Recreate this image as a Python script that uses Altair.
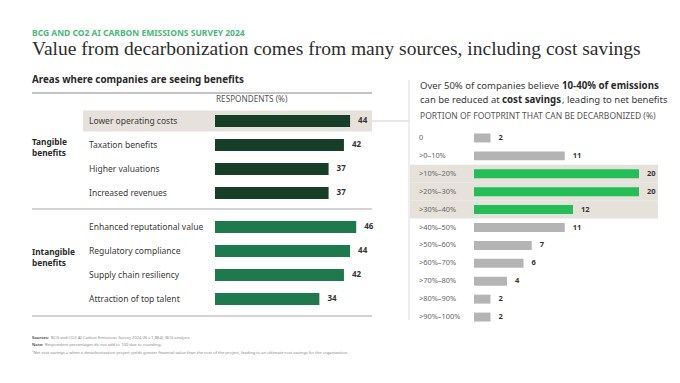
import altair as alt
import pandas as pd

# ---------------- data ----------------
tangible_labels = ["Lower operating costs", "Taxation benefits", "Higher valuations", "Increased revenues"]
tangible_values = [44, 42, 37, 37]
intangible_labels = ["Enhanced reputational value", "Regulatory compliance", "Supply chain resiliency", "Attraction of top talent"]
intangible_values = [46, 44, 42, 34]
highlight_left = ["Lower operating costs"]

portion_labels = ["0", ">0–10%", ">10%–20%", ">20%–30%", ">30%–40%", ">40%–50%", ">50%–60%",
                  ">60%–70%", ">70%–80%", ">80%–90%", ">90%–100%"]
portion_values = [2, 11, 20, 20, 12, 11, 7, 6, 4, 2, 2]
highlight_right = [">10%–20%", ">20%–30%", ">30%–40%"]

SANS = "Noto Sans"
SERIF = "Liberation Serif"
DARK = "#333333"
GREY_TXT = "#666666"

tang = pd.DataFrame({"label": tangible_labels, "value": tangible_values})
intang = pd.DataFrame({"label": intangible_labels, "value": intangible_values})
port = pd.DataFrame({"label": portion_labels, "value": portion_values})
port["hl"] = port["label"].isin(highlight_right)

left_x = alt.Scale(domain=[0, 50], range=[207, 360.5], zero=True, nice=False)
right_x = alt.Scale(domain=[0, 20], range=[466, 631], zero=True, nice=False)


def band(domain, rng, pi=0.5, po=0.25):
    return alt.Scale(domain=domain, range=rng, paddingInner=pi, paddingOuter=po)


def group_layers(df, labels, rng, color):
    ys = band(labels, rng)
    bars = alt.Chart(df).mark_bar(color=color).encode(
        x=alt.X("value:Q", scale=left_x, axis=None),
        y=alt.Y("label:N", scale=ys, axis=None, sort=labels),
    )
    vals = alt.Chart(df).mark_text(align="left", dx=8, font=SANS, fontSize=8,
                                   fontWeight="bold", color=DARK).encode(
        x=alt.X("value:Q", scale=left_x, axis=None),
        y=alt.Y("label:N", scale=ys, axis=None, sort=labels),
        text="value:Q",
    )
    cats = alt.Chart(df).mark_text(align="left", font=SANS, fontSize=8.5, color="#3a3a3a").encode(
        x=alt.value(81),
        y=alt.Y("label:N", scale=ys, axis=None, sort=labels),
        text="label:N",
    )
    return [bars, vals, cats]


T_RANGE = [101, 197]
I_RANGE = [207, 303]

# left highlight band
hl_left = alt.Chart(tang[tang["label"].isin(highlight_left)]).mark_rect(color="#e7e1db").encode(
    x=alt.value(75), x2=alt.value(364),
    y=alt.Y("label:N", scale=band(tangible_labels, T_RANGE, 0.125, 0.0625), axis=None),
)
connector = alt.Chart(tang[tang["label"].isin(highlight_left)]).mark_rule(color="#cfcfcf", strokeWidth=1).encode(
    x=alt.value(364), x2=alt.value(401),
    y=alt.Y("label:N", scale=band(tangible_labels, T_RANGE), axis=None),
)

# right highlight band
R_RANGE = [121, 318]
hl_right = alt.Chart(port[port["hl"]]).mark_rect(color="#e7e1db").encode(
    x=alt.value(402), x2=alt.value(650),
    y=alt.Y("label:N", scale=band(portion_labels, R_RANGE, 0, 0), axis=None),
)
r_scale = band(portion_labels, R_RANGE)
r_bars = alt.Chart(port).mark_bar().encode(
    x=alt.X("value:Q", scale=right_x, axis=None),
    y=alt.Y("label:N", scale=r_scale, axis=None, sort=portion_labels),
    color=alt.Color("hl:N", scale=alt.Scale(domain=[True, False], range=["#22bf57", "#b4b4b4"]), legend=None),
)
r_vals = alt.Chart(port).mark_text(align="left", dx=8, font=SANS, fontSize=7.5, fontWeight="bold", color=DARK).encode(
    x=alt.X("value:Q", scale=right_x, axis=None),
    y=alt.Y("label:N", scale=r_scale, axis=None, sort=portion_labels),
    text="value:Q",
)
r_cats = alt.Chart(port).mark_text(align="left", font=SANS, fontSize=7.4, color=GREY_TXT).encode(
    x=alt.value(411),
    y=alt.Y("label:N", scale=r_scale, axis=None, sort=portion_labels),
    text="label:N",
)


def txt(s, x, y, size, color=DARK, weight="normal", font=SANS):
    return alt.Chart(pd.DataFrame({"t": [s]})).mark_text(
        align="left", baseline="middle", font=font, fontSize=size, fontWeight=weight, color=color
    ).encode(x=alt.value(x), y=alt.value(y), text="t:N")


def hrule(y, x1, x2, color="#9a9a9a", w=1):
    return alt.Chart(pd.DataFrame({"a": [0]})).mark_rule(color=color, strokeWidth=w).encode(
        x=alt.value(x1), x2=alt.value(x2), y=alt.value(y))


def vrule(x, y1, y2, color="#dddddd", w=1):
    return alt.Chart(pd.DataFrame({"a": [0]})).mark_rule(color=color, strokeWidth=w).encode(
        x=alt.value(x), y=alt.value(y1), y2=alt.value(y2))


FN = 4.1
HD = 9.5
texts = [
    txt("BCG AND CO2 AI CARBON EMISSIONS SURVEY 2024", 24, 25, 8.5, "#45b97c", "bold"),
    txt("Value from decarbonization comes from many sources, including cost savings", 24, 41, 19.5, "#2e2e2e", "normal", SERIF),
    txt("Areas where companies are seeing benefits", 24, 72, 9.8, "#2a2a2a", "bold"),
    txt("RESPONDENTS (%)", 208, 92, 8.2, "#555555"),
    txt("Tangible", 24, 135, 8.3, "#2a2a2a", "bold"),
    txt("benefits", 24, 146, 8.3, "#2a2a2a", "bold"),
    txt("Intangible", 24, 245, 8.3, "#2a2a2a", "bold"),
    txt("benefits", 24, 256, 8.3, "#2a2a2a", "bold"),
    txt("Over 50% of companies believe", 412, 78, HD, "#3a3a3a"),
    txt("10-40% of emissions", 554, 78, 9.7, "#2a2a2a", "bold"),
    txt("can be reduced at", 412, 92, HD, "#3a3a3a"),
    txt("cost savings", 494, 92, 9.7, "#2a2a2a", "bold"),
    txt(", leading to net benefits", 554, 92, HD, "#3a3a3a"),
    txt("PORTION OF FOOTPRINT THAT CAN BE DECARBONIZED (%)", 412, 108, 8.5, "#555555"),
    txt("Sources:", 24, 330, FN, "#555555", "bold"),
    txt("BCG and CO2 AI Carbon Emissions Survey 2024 (N = 1,864); BCG analysis", 43, 330, FN, "#888888"),
    txt("Note:", 24, 337, FN, "#555555", "bold"),
    txt("Respondent percentages do not add to 100 due to rounding.", 37, 337, FN, "#888888"),
    txt("¹Net cost savings = when a decarbonization project yields greater financial value than the cost of the project, leading to an ultimate cost savings for the organization.",
        24, 345, FN, "#888888"),
]

rules = [
    hrule(85, 24, 364, "#8a8a8a"),
    hrule(201, 24, 364, "#a8a8a8"),
    hrule(308, 24, 364, "#a8a8a8"),
    vrule(401, 72, 312, "#dcdcdc"),
]

layers = ([hl_left, hl_right, connector] + rules
          + group_layers(tang, tangible_labels, T_RANGE, "#173f28")
          + group_layers(intang, intangible_labels, I_RANGE, "#1d7a4d")
          + [r_bars, r_vals, r_cats] + texts)

chart = alt.layer(*layers).resolve_scale(x="independent", y="independent", color="independent").properties(
    width=664, height=367, autosize=alt.AutoSizeParams(type="none"), padding=0,
    background="white",
).configure_view(stroke=None)

chart.save("out.html", embed_options={"renderer": "svg", "actions": False})
